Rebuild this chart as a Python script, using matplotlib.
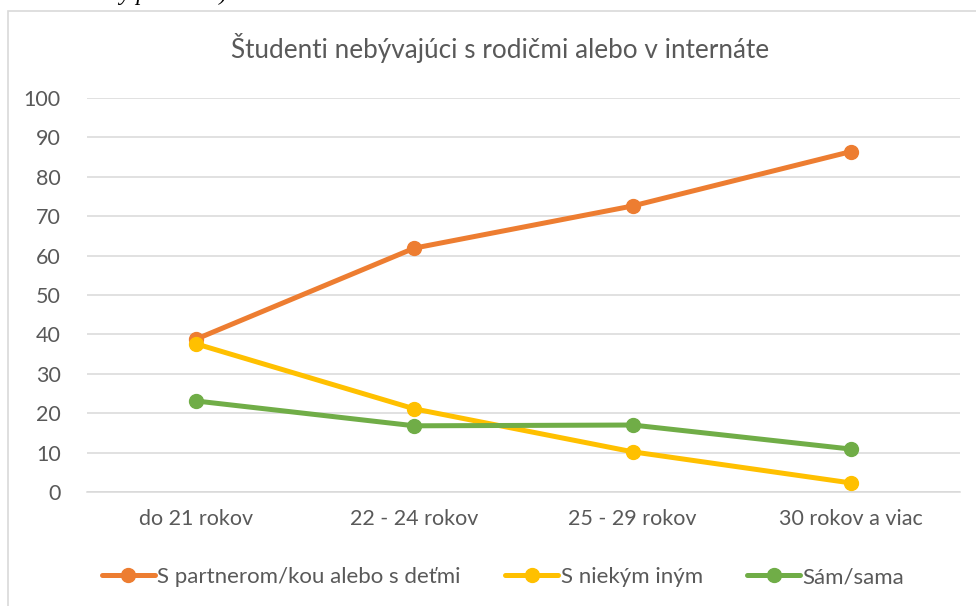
import matplotlib
matplotlib.use("Agg")
import matplotlib.pyplot as plt
from matplotlib.patches import Rectangle

categories = ["do 21 rokov", "22 - 24 rokov", "25 - 29 rokov", "30 rokov a viac"]
partner = [38.8, 61.9, 72.6, 86.4]
niekym = [37.6, 21.1, 10.2, 2.3]
sam = [23.1, 16.8, 17.0, 10.9]
series_names = ["S partnerom/kou alebo s deťmi", "S niekým iným", "Sám/sama"]
colors = ["#ED7D31", "#FFC000", "#70AD47"]
yticks = list(range(0, 101, 10))
title = "Študenti nebývajúci s rodičmi alebo v internáte"

plt.rcParams['font.family'] = ['Lato', 'DejaVu Sans']

W, H = 976, 606
fig = plt.figure(figsize=(W / 100, H / 100), dpi=100)

# chart border
fig.patches.append(Rectangle((8 / W, -0.05), (W - 8 + 20) / W, (H - 11) / H + 0.05,
                             transform=fig.transFigure, fill=False,
                             edgecolor="#D9D9D9", lw=1.2))

# clipped document text above the chart (only descenders visible)
fig.text(108 / W, 1.0, "by pohlavia)", fontsize=17, style="italic",
         family="Liberation Serif", va="baseline", ha="left", color="black")

ax = fig.add_axes([87 / W, 1 - 492 / H, (960 - 87) / W, (492 - 98) / H])
x = list(range(len(categories)))
for vals, name, c in zip([partner, niekym, sam], series_names, colors):
    ax.plot(x, vals, color=c, lw=3.6, marker="o", markersize=10,
            solid_capstyle="round", label=name, zorder=3)

ax.set_xlim(-0.5, len(categories) - 0.5)
ax.set_ylim(0, 100)
ax.set_yticks(yticks)
ax.set_xticks(x)
ax.set_xticklabels(categories)
ax.grid(axis="y", color="#D9D9D9", lw=1.1, zorder=0)
ax.set_axisbelow(True)
for s in ["top", "right", "left"]:
    ax.spines[s].set_visible(False)
ax.spines["bottom"].set_color("#D9D9D9")
ax.spines["bottom"].set_linewidth(1.1)
ax.tick_params(axis="both", length=0, labelsize=15.5, colors="#595959")
ax.tick_params(axis="y", pad=19)
ax.tick_params(axis="x", pad=12)

fig.text(500 / W, 1 - 48 / H, title, ha="center", va="center",
         fontsize=18.8, color="#595959")

leg = fig.legend(loc="center", bbox_to_anchor=(503 / W, 1 - 577 / H), ncol=3,
                 frameon=False, fontsize=16, handlelength=2.4,
                 handletextpad=0.1, columnspacing=2.0)
for t in leg.get_texts():
    t.set_color("#595959")

fig.savefig("out.png", dpi=100)
